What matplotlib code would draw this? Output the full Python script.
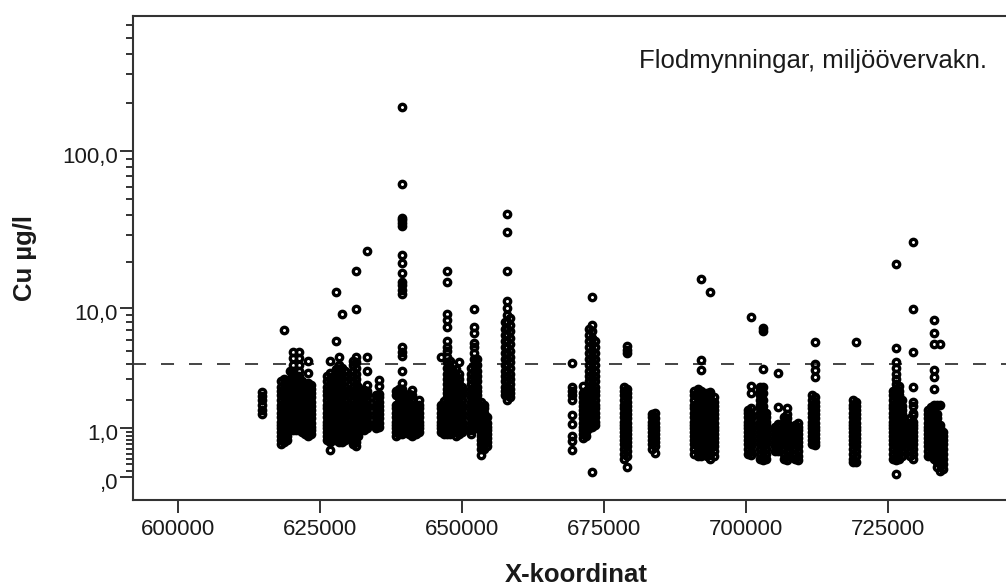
import numpy as np
import matplotlib
matplotlib.use("Agg")
from matplotlib import pyplot as plt
from matplotlib.transforms import ScaledTranslation

# Cu (µg/l) per sampling station, grouped by X-koordinat
x_615 = [614900]
cu_615 = [[1.45, 1.6, 1.8, 2.0, 2.15, 2.35]]

x_620 = [618200, 618700, 619200, 619750, 620280, 620810, 621340, 621860, 622390, 622920, 623450]
cu_620 = [
    [0.6, 0.7, 0.8, 0.9, 1.0, 1.1, 1.2, 1.35, 1.5, 1.65, 1.8, 2.0, 2.2, 2.4, 2.6, 2.9],
    [0.65, 0.75, 0.85, 0.95, 1.05, 1.15, 1.3, 1.45, 1.6, 1.75, 1.9, 2.1, 2.3, 2.5, 2.75, 3.0, 7.0],
    [0.7, 0.8, 0.9, 1.0, 1.1, 1.2, 1.35, 1.5, 1.65, 1.8, 2.0, 2.2, 2.4, 2.6, 2.9],
    [0.95, 1.05, 1.15, 1.3, 1.45, 1.6, 1.75, 1.9, 2.1, 2.3, 2.5, 2.75, 3.0, 3.5],
    [0.95, 1.1, 1.2, 1.35, 1.5, 1.65, 1.8, 2.0, 2.2, 2.4, 2.6, 2.9, 3.2, 3.5, 3.9, 4.4, 4.9],
    [0.95, 1.05, 1.15, 1.3, 1.45, 1.6, 1.75, 1.9, 2.1, 2.3, 2.5, 2.75, 3.0, 3.2],
    [0.95, 1.1, 1.2, 1.35, 1.5, 1.65, 1.8, 2.0, 2.2, 2.4, 2.6, 2.9, 3.2, 3.5, 3.9, 4.4, 4.9],
    [0.9, 1.0, 1.1, 1.2, 1.35, 1.5, 1.65, 1.8, 2.0, 2.2, 2.4, 2.6, 2.9],
    [0.85, 0.95, 1.05, 1.15, 1.3, 1.45, 1.6, 1.75, 1.9, 2.1, 2.3, 2.5, 2.75],
    [0.8, 0.9, 1.0, 1.1, 1.2, 1.35, 1.5, 1.65, 1.8, 2.0, 2.2, 2.4, 2.6, 2.8, 3.35, 4.2],
    [0.85, 0.95, 1.05, 1.15, 1.3, 1.45, 1.6, 1.75, 1.9, 2.1, 2.3, 2.5, 2.7],
]

x_627 = [626260, 626790, 627320, 627850, 628370, 628900, 629430]
cu_627 = [
    [0.7, 0.8, 0.9, 1.0, 1.1, 1.2, 1.35, 1.5, 1.65, 1.8, 2.0, 2.2, 2.4, 2.6, 2.9, 3.2],
    [0.48, 0.65, 0.75, 0.85, 0.95, 1.05, 1.15, 1.3, 1.45, 1.6, 1.75, 1.9, 2.1, 2.3, 2.5, 2.75, 3.0, 3.4, 4.2],
    [0.7, 0.8, 0.9, 1.0, 1.1, 1.2, 1.35, 1.5, 1.65, 1.8, 2.0, 2.2, 2.4, 2.6, 2.9, 3.2],
    [0.7, 0.8, 0.9, 1.0, 1.1, 1.2, 1.35, 1.5, 1.65, 1.8, 2.0, 2.2, 2.4, 2.6, 2.9, 3.2, 3.6, 5.9, 12.7],
    [0.65, 0.75, 0.85, 0.95, 1.05, 1.15, 1.3, 1.45, 1.6, 1.75, 1.9, 2.1, 2.3, 2.5, 2.75, 3.0, 3.3, 3.6, 3.9, 4.5],
    [0.65, 0.75, 0.85, 0.95, 1.05, 1.15, 1.3, 1.45, 1.6, 1.75, 1.9, 2.1, 2.3, 2.5, 2.75, 3.0, 3.3, 3.7, 9.1],
    [0.7, 0.8, 0.9, 1.0, 1.1, 1.2, 1.35, 1.5, 1.65, 1.8, 2.0, 2.2, 2.4, 2.6, 2.9, 3.2, 3.5],
]

x_631 = [630840, 631370, 631800]
cu_631 = [
    [0.6, 0.7, 0.8, 0.9, 1.0, 1.1, 1.2, 1.35, 1.5, 1.65, 1.8, 2.0, 2.2, 2.4, 2.6, 2.9, 3.2, 3.5, 3.9, 4.2],
    [0.55, 0.65, 0.75, 0.85, 0.95, 1.05, 1.15, 1.3, 1.45, 1.6, 1.75, 1.9, 2.1, 2.3, 2.5, 2.75, 3.0, 3.3,
     3.7, 4.1, 4.5, 9.8, 17.6],
    [0.8, 0.9, 1.0, 1.1, 1.2, 1.35, 1.5, 1.65, 1.8, 2.0, 2.2, 2.4, 2.6],
]

x_633 = [632780, 633300, 634880, 635410]
cu_633 = [
    [0.95, 1.05, 1.15, 1.3, 1.45, 1.6, 1.75, 1.9, 2.1, 2.3, 2.45],
    [1.0, 1.1, 1.2, 1.35, 1.5, 1.65, 1.8, 2.0, 2.2, 2.4, 2.7, 3.5, 4.5, 23.5],
    [1.0, 1.1, 1.2, 1.35, 1.5, 1.65, 1.8, 2.0, 2.2],
    [1.05, 1.15, 1.3, 1.45, 1.6, 1.75, 1.9, 2.1, 2.25, 2.65, 2.95],
]

x_639 = [638400, 638930, 639450, 639980, 640700, 641300, 641900, 642500]
cu_639 = [
    [0.8, 0.9, 1.0, 1.1, 1.2, 1.35, 1.5, 1.65, 1.8, 2.2, 2.4],
    [0.85, 0.95, 1.05, 1.15, 1.3, 1.45, 1.6, 1.75, 1.9, 2.1, 2.3, 2.5],
    [0.85, 0.95, 1.05, 1.15, 1.3, 1.45, 1.6, 1.75, 1.9, 2.1, 2.3, 2.5, 2.8, 3.5, 4.6, 4.85, 5.3,
     12.4, 13.2, 14.1, 14.8, 17.0, 19.7, 22.3, 34.0, 35.5, 37.0, 38.0, 62.5, 189.0],
    [0.9, 1.0, 1.1, 1.2, 1.35, 1.5, 1.65, 1.8, 2.0],
    [0.85, 0.95, 1.05, 1.15, 1.3, 1.45, 1.6, 1.75, 1.9, 2.1, 2.25],
    [0.8, 0.9, 1.0, 1.1, 1.2, 1.35, 1.5, 1.65, 1.8, 2.0, 2.2, 2.45],
    [0.85, 0.95, 1.05, 1.15, 1.3, 1.45, 1.6, 1.8],
    [0.9, 1.0, 1.1, 1.2, 1.35, 1.5, 1.65, 1.8, 2.0],
]

x_648 = [646310, 646840, 647370, 647900, 648430, 648950, 649480, 650010]
cu_648 = [
    [0.9, 1.0, 1.1, 1.2, 1.35, 1.5, 1.65, 1.8, 4.5],
    [0.85, 0.95, 1.05, 1.15, 1.3, 1.45, 1.6, 1.75, 1.95],
    [0.85, 0.95, 1.05, 1.15, 1.3, 1.45, 1.6, 1.75, 1.9, 2.1, 2.3, 2.5, 2.75, 3.0, 3.3, 3.7, 4.1, 4.5,
     5.0, 5.3, 5.9, 7.4, 8.3, 9.1, 14.8, 17.6],
    [0.85, 0.95, 1.05, 1.15, 1.3, 1.45, 1.6, 1.75, 1.9, 2.1, 2.3, 2.5, 2.75, 3.0, 3.3, 3.7, 4.2],
    [0.9, 1.0, 1.1, 1.2, 1.35, 1.5, 1.65, 1.8, 2.0, 2.2, 2.4, 2.6, 2.9, 3.2, 3.5],
    [0.8, 0.9, 1.0, 1.1, 1.2, 1.35, 1.5, 1.65, 1.8, 2.0, 2.2, 2.4, 2.6, 2.9, 3.2, 3.6],
    [0.85, 0.95, 1.05, 1.15, 1.3, 1.45, 1.6, 1.75, 1.9, 2.1, 2.3, 2.5, 2.75, 3.0, 3.3, 4.1],
    [0.9, 1.0, 1.1, 1.2, 1.35, 1.5, 1.65, 1.8, 2.0, 2.2, 2.4, 2.6],
]

x_652 = [651600, 652150, 652700, 653300, 653850, 654400]
cu_652 = [
    [0.85, 0.95, 1.05, 1.15, 1.3, 1.45, 1.6, 1.75, 1.9, 2.1, 2.3, 2.5, 2.75, 3.0, 3.3, 3.7],
    [1.1, 1.2, 1.35, 1.5, 1.65, 1.8, 2.0, 2.2, 2.4, 2.6, 2.9, 3.2, 3.5, 3.9, 4.3, 4.8, 5.3, 5.7,
     6.7, 7.4, 9.8],
    [1.0, 1.1, 1.2, 1.35, 1.5, 1.65, 1.8, 2.0, 2.2, 2.4, 2.6, 2.9, 3.2, 3.5, 3.9, 4.3],
    [0.38, 0.5, 0.6, 0.7, 0.8, 0.9, 1.0, 1.1, 1.2, 1.35, 1.5, 1.65, 1.9],
    [0.5, 0.6, 0.7, 0.8, 0.9, 1.0, 1.1, 1.2, 1.35, 1.5, 1.65, 1.8],
    [0.55, 0.65, 0.75, 0.85, 0.95, 1.05, 1.15, 1.35],
]

x_658 = [657570, 658010, 658450]
cu_658 = [
    [2.2, 2.4, 2.6, 2.9, 3.2, 3.5, 3.9, 4.3, 4.8, 5.3, 5.9, 6.5, 7.2, 8.0],
    [2.0, 2.2, 2.4, 2.6, 2.9, 3.2, 3.5, 3.9, 4.3, 4.8, 5.3, 5.9, 6.5, 7.2, 8.0, 9.0, 10.0, 11.2,
     17.6, 31.0, 40.5],
    [2.1, 2.3, 2.5, 2.75, 3.0, 3.3, 3.7, 4.1, 4.5, 5.0, 5.6, 6.2, 6.9, 7.6, 8.5],
]

x_672 = [669300, 671290, 671820, 672350, 672880, 673410]
cu_672 = [
    [0.47, 0.68, 0.8, 1.13, 1.4, 2.0, 2.2, 2.4, 2.6, 4.05],
    [0.75, 0.85, 0.95, 1.05, 1.15, 1.3, 1.45, 1.6, 1.75, 1.9, 2.1, 2.3, 2.65],
    [0.8, 0.9, 1.0, 1.1, 1.2, 1.35, 1.5, 1.65, 1.8, 2.0, 2.2, 2.4],
    [1.0, 1.1, 1.2, 1.35, 1.5, 1.65, 1.8, 2.0, 2.2, 2.4, 2.6, 2.9, 3.2, 3.5, 3.9, 4.3, 4.8, 5.3, 5.9,
     6.5, 7.2],
    [0.07, 1.05, 1.15, 1.3, 1.45, 1.6, 1.75, 1.9, 2.1, 2.3, 2.5, 2.75, 3.0, 3.3, 3.7, 4.1, 4.5, 5.0,
     5.6, 6.2, 6.9, 7.6, 11.9],
    [1.1, 1.2, 1.35, 1.5, 1.65, 1.8, 2.0, 2.2, 2.4, 2.6, 2.9, 3.2, 3.5, 3.9, 4.3, 4.8, 5.3, 5.9],
]

x_680 = [678500, 679030, 683430, 683960]
cu_680 = [
    [0.3, 0.4, 0.5, 0.6, 0.7, 0.8, 0.9, 1.0, 1.1, 1.2, 1.35, 1.5, 1.65, 1.8, 2.0, 2.2, 2.4, 2.6],
    [0.15, 0.35, 0.45, 0.55, 0.65, 0.75, 0.85, 0.95, 1.05, 1.15, 1.3, 1.45, 1.6, 1.75, 1.9, 2.1,
     2.3, 2.5, 4.8, 5.1, 5.4],
    [0.5, 0.6, 0.7, 0.8, 0.9, 1.0, 1.1, 1.2, 1.35, 1.45],
    [0.42, 0.55, 0.65, 0.75, 0.85, 0.95, 1.05, 1.15, 1.3, 1.5],
]

x_692 = [690900, 691450, 692000, 692550, 693150, 693700, 694250]
cu_692 = [
    [0.4, 0.5, 0.6, 0.7, 0.8, 0.9, 1.0, 1.1, 1.2, 1.35, 1.5, 1.65, 1.8, 2.0, 2.2, 2.4],
    [0.35, 0.45, 0.55, 0.65, 0.75, 0.85, 0.95, 1.05, 1.15, 1.3, 1.45, 1.6, 1.75, 1.9, 2.1, 2.3, 2.5],
    [0.35, 0.4, 0.5, 0.6, 0.7, 0.8, 0.9, 1.0, 1.1, 1.2, 1.35, 1.5, 1.65, 1.8, 2.0, 2.2, 2.4, 3.55,
     4.25, 15.6],
    [0.4, 0.5, 0.6, 0.7, 0.8, 0.9, 1.0, 1.1, 1.2, 1.35, 1.5, 1.65, 1.8, 2.0, 2.3],
    [0.35, 0.45, 0.55, 0.65, 0.75, 0.85, 0.95, 1.05, 1.15, 1.3, 1.45, 1.6, 1.75, 1.9, 2.1, 2.3],
    [0.3, 0.4, 0.5, 0.6, 0.7, 0.8, 0.9, 1.0, 1.1, 1.2, 1.35, 1.5, 1.65, 1.8, 2.0, 2.2, 2.35, 12.7],
    [0.35, 0.45, 0.55, 0.65, 0.75, 0.85, 0.95, 1.05, 1.15, 1.3, 1.45, 1.6, 1.75, 1.9, 2.1],
]

x_702 = [700310, 700840, 702480, 703010, 703540]
cu_702 = [
    [0.4, 0.5, 0.6, 0.7, 0.8, 0.9, 1.0, 1.1, 1.2, 1.35, 1.5, 1.6],
    [0.38, 0.45, 0.55, 0.65, 0.75, 0.85, 0.95, 1.05, 1.15, 1.3, 1.45, 1.65, 2.3, 2.65, 8.6],
    [0.3, 0.4, 0.5, 0.6, 0.7, 0.8, 0.9, 1.0, 1.1, 1.2, 1.35, 1.5, 1.65, 1.8, 2.0, 2.2, 2.4, 2.6],
    [0.28, 0.35, 0.45, 0.55, 0.65, 0.75, 0.85, 0.95, 1.05, 1.15, 1.3, 1.45, 1.6, 1.75, 2.0, 2.3,
     2.6, 3.6, 6.9, 7.3],
    [0.3, 0.4, 0.5, 0.6, 0.7, 0.8, 0.9, 1.0, 1.1, 1.2, 1.35, 1.5],
]

x_707 = [705010, 705540, 706650, 707180, 708590, 709120, 711570, 712100]
cu_707 = [
    [0.45, 0.55, 0.65, 0.75, 0.85, 0.95, 1.05],
    [0.45, 0.55, 0.65, 0.75, 0.85, 0.95, 1.08, 1.13, 1.7, 3.35],
    [0.3, 0.4, 0.5, 0.6, 0.7, 0.8, 0.9, 1.0, 1.1, 1.2, 1.35],
    [0.27, 0.35, 0.45, 0.55, 0.65, 0.75, 0.85, 0.95, 1.05, 1.15, 1.3, 1.45, 1.65],
    [0.3, 0.4, 0.5, 0.6, 0.7, 0.8, 0.9, 1.0, 1.1],
    [0.27, 0.35, 0.45, 0.55, 0.65, 0.75, 0.85, 0.95, 1.05, 1.15],
    [0.6, 0.7, 0.8, 0.9, 1.0, 1.1, 1.2, 1.35, 1.5, 1.65, 1.8, 2.0, 2.2],
    [0.57, 0.65, 0.75, 0.85, 0.95, 1.05, 1.15, 1.3, 1.45, 1.6, 1.75, 1.9, 2.1, 3.15, 3.55, 4.0, 5.8],
]

x_719 = [718790, 719320]
cu_719 = [
    [0.25, 0.3, 0.4, 0.5, 0.6, 0.7, 0.8, 0.9, 1.0, 1.1, 1.2, 1.35, 1.5, 1.65, 1.8, 2.0],
    [0.25, 0.35, 0.45, 0.55, 0.65, 0.75, 0.85, 0.95, 1.05, 1.15, 1.3, 1.45, 1.6, 1.75, 1.9, 5.8],
]

x_726 = [725770, 726300, 726820, 727350, 728820, 729350]
cu_726 = [
    [0.3, 0.4, 0.5, 0.6, 0.7, 0.8, 0.9, 1.0, 1.1, 1.2, 1.35, 1.5, 1.65, 1.8, 2.0, 2.2, 2.4],
    [0.05, 0.27, 0.35, 0.45, 0.55, 0.65, 0.75, 0.85, 0.95, 1.05, 1.15, 1.3, 1.45, 1.6, 1.75, 1.9,
     2.1, 2.3, 2.5, 2.75, 3.0, 3.3, 3.7, 4.1, 5.2, 19.5],
    [0.3, 0.4, 0.5, 0.6, 0.7, 0.8, 0.9, 1.0, 1.1, 1.2, 1.35, 1.5, 1.65, 1.8, 2.0, 2.2, 2.4, 2.65],
    [0.35, 0.45, 0.55, 0.65, 0.75, 0.85, 0.95, 1.05, 1.15, 1.3, 1.45, 1.6, 1.75, 2.0],
    [0.35, 0.45, 0.55, 0.65, 0.75, 0.85, 0.95, 1.05, 1.15, 1.3],
    [0.3, 0.4, 0.5, 0.6, 0.7, 0.8, 0.9, 1.0, 1.1, 1.2, 1.4, 1.5, 1.75, 1.9, 2.6, 4.85, 9.9, 27.0],
]

x_733 = [732000, 732530, 733060, 733580, 734110, 734640]
cu_733 = [
    [0.35, 0.45, 0.55, 0.65, 0.75, 0.85, 0.95, 1.05, 1.15, 1.3, 1.45, 1.6],
    [0.35, 0.4, 0.5, 0.6, 0.7, 0.8, 0.9, 1.0, 1.1, 1.2, 1.35, 1.5, 1.7],
    [0.3, 0.4, 0.5, 0.6, 0.7, 0.8, 0.9, 1.0, 1.1, 1.2, 1.35, 1.5, 1.65, 1.8, 2.5, 3.15, 3.55, 5.6,
     6.7, 8.2],
    [0.15, 0.25, 0.35, 0.45, 0.55, 0.65, 0.75, 0.85, 0.95, 1.05, 1.15, 1.3, 1.45, 1.8],
    [0.1, 0.2, 0.3, 0.4, 0.5, 0.6, 0.7, 0.8, 0.9, 1.0, 1.1, 1.8, 5.6],
    [0.12, 0.2, 0.3, 0.4, 0.5, 0.6, 0.7, 0.8, 0.9],
]

riktvarde = 4.0

y_major = [0, 1, 10, 100]
y_major_labels = [",0", "1,0", "10,0", "100,0"]
y_minor = [0.1, 0.2, 0.3, 0.4, 0.5, 0.6, 0.7, 0.8, 0.9,
           2, 3, 4, 5, 6, 7, 8, 9,
           20, 30, 40, 50, 60, 70, 80, 90,
           200, 300, 400, 500, 600]
x_ticks = [600000, 625000, 650000, 675000, 700000, 725000]

groups = [(x_615, cu_615), (x_620, cu_620), (x_627, cu_627), (x_631, cu_631),
          (x_633, cu_633), (x_639, cu_639), (x_648, cu_648), (x_652, cu_652),
          (x_658, cu_658), (x_672, cu_672), (x_680, cu_680), (x_692, cu_692),
          (x_702, cu_702), (x_707, cu_707), (x_719, cu_719), (x_726, cu_726),
          (x_733, cu_733)]


def fwd(v):
    # log(1 + y) so that zero can be shown
    return np.log10(np.clip(1.0 + np.asarray(v, dtype=float), 1e-6, None))


def inv(t):
    return 10.0 ** np.asarray(t, dtype=float) - 1.0


plt.rcParams['font.family'] = ['Liberation Sans', 'DejaVu Sans']

fig = plt.figure(figsize=(10.06, 5.88), dpi=100)
ax = fig.add_axes([0.1325, 0.1497, 0.8814, 0.8236])
ax.set_yscale('function', functions=(fwd, inv))

for xs, vals in groups:
    for x, v in zip(xs, vals):
        ax.plot([x] * len(v), v, ls='none', marker='o', ms=4.6, mew=2.4,
                mfc='none', mec='#000000', zorder=3)

ax.axhline(riktvarde, color='#444444', lw=1.4, dashes=(6.7, 7.7), zorder=2)

ax.set_xlim(592190, 748160)
ax.set_ylim(-0.2748, 686.6)

ax.set_yticks(y_major)
ax.set_yticklabels(y_major_labels)
ax.set_yticks(y_minor, minor=True)
ax.set_xticks(x_ticks)
ax.set_xticklabels([str(t) for t in x_ticks])

ax.tick_params(axis='both', which='major', direction='out', length=9.5, width=1.4,
               color='#333333', labelsize=16, labelcolor='#1a1a1a')
ax.tick_params(axis='y', which='minor', direction='out', length=5, width=1.4, color='#333333')
ax.tick_params(axis='y', which='major', pad=1.5)
ax.tick_params(axis='x', which='major', pad=4)

offset = ScaledTranslation(0, -3 / 72, fig.dpi_scale_trans)
for lab in ax.get_yticklabels():
    lab.set_transform(lab.get_transform() + offset)

for sp in ax.spines.values():
    sp.set_color('#333333')
    sp.set_linewidth(1.5)

ax.set_xlabel('X-koordinat', fontsize=18.5, fontweight='bold', labelpad=17, color='#1a1a1a')
ax.set_ylabel('Cu µg/l', fontsize=18.5, fontweight='bold', labelpad=18, color='#1a1a1a')

ax.text(0.9628, 0.892, 'Flodmynningar, miljöövervakn.', transform=ax.transAxes,
        ha='right', va='baseline', fontsize=18.5, color='#1a1a1a')

fig.savefig('out.png', dpi=100)
